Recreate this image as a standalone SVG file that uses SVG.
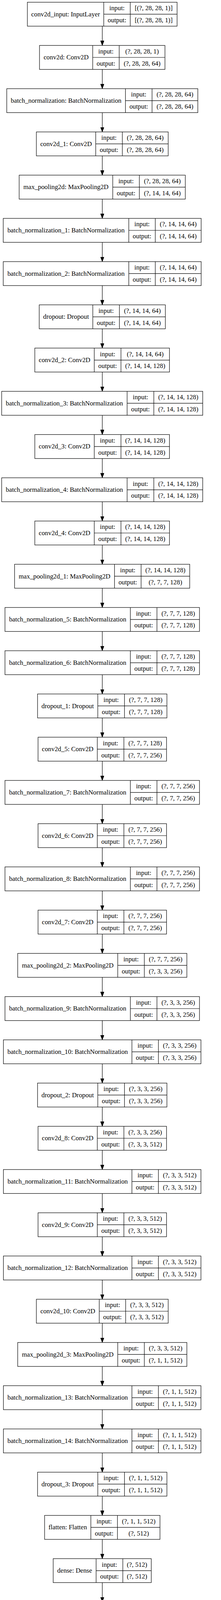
<svg xmlns="http://www.w3.org/2000/svg" width="565" height="4279" viewBox="0 0 565 4279">
<style>
.b{fill:#fff;stroke:#000;stroke-width:1.2}
.l{fill:none;stroke:#000;stroke-width:1.2}
text{font-family:"Liberation Serif","Times New Roman",serif;font-size:16.8px;text-anchor:middle;fill:#000}
</style>
<defs>
<marker id="ah" markerUnits="userSpaceOnUse" markerWidth="14" markerHeight="10" refX="12" refY="4.5" orient="auto">
<path d="M0,0L12,4.5L0,9Z" fill="#000" stroke="#000" stroke-width="1"/>
</marker>
</defs>
<rect x="0" y="0" width="565" height="4279" fill="#fff"/>
<g id="connectors" class="l" marker-end="url(#ah)">
<path d="M261.5,67V116.35"/>
<path d="M261.5,177.68V227.03"/>
<path d="M261.5,288.36V337.71"/>
<path d="M261.5,399.04V448.39"/>
<path d="M261.5,509.72V559.07"/>
<path d="M261.5,620.4V669.75"/>
<path d="M261.5,731.08V780.43"/>
<path d="M261.5,841.76V891.11"/>
<path d="M261.5,952.44V1001.79"/>
<path d="M261.5,1063.12V1112.47"/>
<path d="M261.5,1173.8V1223.15"/>
<path d="M261.5,1284.48V1333.83"/>
<path d="M261.5,1395.16V1444.51"/>
<path d="M261.5,1505.84V1555.19"/>
<path d="M261.5,1616.52V1665.87"/>
<path d="M261.5,1727.2V1776.55"/>
<path d="M261.5,1837.88V1887.23"/>
<path d="M261.5,1948.56V1997.91"/>
<path d="M261.5,2059.24V2108.59"/>
<path d="M261.5,2169.92V2219.27"/>
<path d="M261.5,2280.6V2329.95"/>
<path d="M261.5,2391.28V2440.63"/>
<path d="M261.5,2501.96V2551.31"/>
<path d="M261.5,2612.64V2661.99"/>
<path d="M261.5,2723.32V2772.67"/>
<path d="M261.5,2834V2883.35"/>
<path d="M261.5,2944.68V2994.03"/>
<path d="M261.5,3055.36V3104.71"/>
<path d="M261.5,3166.04V3215.39"/>
<path d="M261.5,3276.72V3326.07"/>
<path d="M261.5,3387.4V3436.75"/>
<path d="M261.5,3498.08V3547.43"/>
<path d="M261.5,3608.76V3658.11"/>
<path d="M261.5,3719.44V3768.79"/>
<path d="M261.5,3830.12V3879.47"/>
<path d="M261.5,3940.8V3990.15"/>
<path d="M261.5,4051.48V4100.83"/>
<path d="M261.5,4162.16V4211.51"/>
</g>

<g id="n0" transform="translate(0,5.67)">
<rect class="b" x="70" y="0" width="382.7" height="61.33"/>
<path class="l" d="M265.3,0V61.33M333,0V61.33M265.3,30.67H452.7"/>
<text x="167.65" y="36">conv2d_input: InputLayer</text>
<text x="299.15" y="20.4">input:</text><text x="392.85" y="20.4">[(?, 28, 28, 1)]</text>
<text x="299.15" y="51.3">output:</text><text x="392.85" y="51.3">[(?, 28, 28, 1)]</text>
</g>
<g id="n1" transform="translate(0,116.35)">
<rect class="b" x="101" y="0" width="320.7" height="61.33"/>
<path class="l" d="M237,0V61.33M304.7,0V61.33M237,30.67H421.7"/>
<text x="169" y="36">conv2d: Conv2D</text>
<text x="270.85" y="20.4">input:</text><text x="363.2" y="20.4">(?, 28, 28, 1)</text>
<text x="270.85" y="51.3">output:</text><text x="363.2" y="51.3">(?, 28, 28, 64)</text>
</g>
<g id="n2" transform="translate(0,227.03)">
<rect class="b" x="17.3" y="0" width="488.4" height="61.33"/>
<path class="l" d="M320.7,0V61.33M388.7,0V61.33M320.7,30.67H505.7"/>
<text x="169" y="36">batch_normalization: BatchNormalization</text>
<text x="354.7" y="20.4">input:</text><text x="447.2" y="20.4">(?, 28, 28, 64)</text>
<text x="354.7" y="51.3">output:</text><text x="447.2" y="51.3">(?, 28, 28, 64)</text>
</g>
<g id="n3" transform="translate(0,337.71)">
<rect class="b" x="93" y="0" width="337" height="61.33"/>
<path class="l" d="M244.7,0V61.33M312.7,0V61.33M244.7,30.67H430"/>
<text x="168.85" y="36">conv2d_1: Conv2D</text>
<text x="278.7" y="20.4">input:</text><text x="371.35" y="20.4">(?, 28, 28, 64)</text>
<text x="278.7" y="51.3">output:</text><text x="371.35" y="51.3">(?, 28, 28, 64)</text>
</g>
<g id="n4" transform="translate(0,448.39)">
<rect class="b" x="49" y="0" width="424.7" height="61.33"/>
<path class="l" d="M288.3,0V61.33M356.3,0V61.33M288.3,30.67H473.7"/>
<text x="168.65" y="36">max_pooling2d: MaxPooling2D</text>
<text x="322.3" y="20.4">input:</text><text x="415" y="20.4">(?, 28, 28, 64)</text>
<text x="322.3" y="51.3">output:</text><text x="415" y="51.3">(?, 14, 14, 64)</text>
</g>
<g id="n5" transform="translate(0,559.07)">
<rect class="b" x="8.3" y="0" width="506" height="61.33"/>
<path class="l" d="M329.3,0V61.33M397,0V61.33M329.3,30.67H514.3"/>
<text x="168.8" y="36">batch_normalization_1: BatchNormalization</text>
<text x="363.15" y="20.4">input:</text><text x="455.65" y="20.4">(?, 14, 14, 64)</text>
<text x="363.15" y="51.3">output:</text><text x="455.65" y="51.3">(?, 14, 14, 64)</text>
</g>
<g id="n6" transform="translate(0,669.75)">
<rect class="b" x="8.3" y="0" width="506" height="61.33"/>
<path class="l" d="M329.3,0V61.33M397,0V61.33M329.3,30.67H514.3"/>
<text x="168.8" y="36">batch_normalization_2: BatchNormalization</text>
<text x="363.15" y="20.4">input:</text><text x="455.65" y="20.4">(?, 14, 14, 64)</text>
<text x="363.15" y="51.3">output:</text><text x="455.65" y="51.3">(?, 14, 14, 64)</text>
</g>
<g id="n7" transform="translate(0,780.43)">
<rect class="b" x="100.3" y="0" width="322.4" height="61.33"/>
<path class="l" d="M237.3,0V61.33M305.3,0V61.33M237.3,30.67H422.7"/>
<text x="168.8" y="36">dropout: Dropout</text>
<text x="271.3" y="20.4">input:</text><text x="364" y="20.4">(?, 14, 14, 64)</text>
<text x="271.3" y="51.3">output:</text><text x="364" y="51.3">(?, 14, 14, 64)</text>
</g>
<g id="n8" transform="translate(0,891.11)">
<rect class="b" x="89" y="0" width="344.3" height="61.33"/>
<path class="l" d="M241,0V61.33M309.3,0V61.33M241,30.67H433.3"/>
<text x="165" y="36">conv2d_2: Conv2D</text>
<text x="275.15" y="20.4">input:</text><text x="371.3" y="20.4">(?, 14, 14, 64)</text>
<text x="275.15" y="51.3">output:</text><text x="371.3" y="51.3">(?, 14, 14, 128)</text>
</g>
<g id="n9" transform="translate(0,1001.79)">
<rect class="b" x="4.3" y="0" width="514" height="61.33"/>
<path class="l" d="M325,0V61.33M393.3,0V61.33M325,30.67H518.3"/>
<text x="164.65" y="36">batch_normalization_3: BatchNormalization</text>
<text x="359.15" y="20.4">input:</text><text x="455.8" y="20.4">(?, 14, 14, 128)</text>
<text x="359.15" y="51.3">output:</text><text x="455.8" y="51.3">(?, 14, 14, 128)</text>
</g>
<g id="n10" transform="translate(0,1112.47)">
<rect class="b" x="89" y="0" width="344.3" height="61.33"/>
<path class="l" d="M241,0V61.33M309.3,0V61.33M241,30.67H433.3"/>
<text x="165" y="36">conv2d_3: Conv2D</text>
<text x="275.15" y="20.4">input:</text><text x="371.3" y="20.4">(?, 14, 14, 128)</text>
<text x="275.15" y="51.3">output:</text><text x="371.3" y="51.3">(?, 14, 14, 128)</text>
</g>
<g id="n11" transform="translate(0,1223.15)">
<rect class="b" x="4.3" y="0" width="514" height="61.33"/>
<path class="l" d="M325,0V61.33M393.3,0V61.33M325,30.67H518.3"/>
<text x="164.65" y="36">batch_normalization_4: BatchNormalization</text>
<text x="359.15" y="20.4">input:</text><text x="455.8" y="20.4">(?, 14, 14, 128)</text>
<text x="359.15" y="51.3">output:</text><text x="455.8" y="51.3">(?, 14, 14, 128)</text>
</g>
<g id="n12" transform="translate(0,1333.83)">
<rect class="b" x="89" y="0" width="344.3" height="61.33"/>
<path class="l" d="M241,0V61.33M309.3,0V61.33M241,30.67H433.3"/>
<text x="165" y="36">conv2d_4: Conv2D</text>
<text x="275.15" y="20.4">input:</text><text x="371.3" y="20.4">(?, 14, 14, 128)</text>
<text x="275.15" y="51.3">output:</text><text x="371.3" y="51.3">(?, 14, 14, 128)</text>
</g>
<g id="n13" transform="translate(0,1444.51)">
<rect class="b" x="37.3" y="0" width="447.7" height="61.33"/>
<path class="l" d="M292.7,0V61.33M360.7,0V61.33M292.7,30.67H485"/>
<text x="165" y="36">max_pooling2d_1: MaxPooling2D</text>
<text x="326.7" y="20.4">input:</text><text x="422.85" y="20.4">(?, 14, 14, 128)</text>
<text x="326.7" y="51.3">output:</text><text x="422.85" y="51.3">(?, 7, 7, 128)</text>
</g>
<g id="n14" transform="translate(0,1555.19)">
<rect class="b" x="12.7" y="0" width="497.3" height="61.33"/>
<path class="l" d="M333.3,0V61.33M401.3,0V61.33M333.3,30.67H510"/>
<text x="173" y="36">batch_normalization_5: BatchNormalization</text>
<text x="367.3" y="20.4">input:</text><text x="455.65" y="20.4">(?, 7, 7, 128)</text>
<text x="367.3" y="51.3">output:</text><text x="455.65" y="51.3">(?, 7, 7, 128)</text>
</g>
<g id="n15" transform="translate(0,1665.87)">
<rect class="b" x="12.7" y="0" width="497.3" height="61.33"/>
<path class="l" d="M333.3,0V61.33M401.3,0V61.33M333.3,30.67H510"/>
<text x="173" y="36">batch_normalization_6: BatchNormalization</text>
<text x="367.3" y="20.4">input:</text><text x="455.65" y="20.4">(?, 7, 7, 128)</text>
<text x="367.3" y="51.3">output:</text><text x="455.65" y="51.3">(?, 7, 7, 128)</text>
</g>
<g id="n16" transform="translate(0,1776.55)">
<rect class="b" x="96" y="0" width="330.7" height="61.33"/>
<path class="l" d="M250,0V61.33M318.3,0V61.33M250,30.67H426.7"/>
<text x="173" y="36">dropout_1: Dropout</text>
<text x="284.15" y="20.4">input:</text><text x="372.5" y="20.4">(?, 7, 7, 128)</text>
<text x="284.15" y="51.3">output:</text><text x="372.5" y="51.3">(?, 7, 7, 128)</text>
</g>
<g id="n17" transform="translate(0,1887.23)">
<rect class="b" x="97.3" y="0" width="328.4" height="61.33"/>
<path class="l" d="M248.7,0V61.33M316.7,0V61.33M248.7,30.67H425.7"/>
<text x="173" y="36">conv2d_5: Conv2D</text>
<text x="282.7" y="20.4">input:</text><text x="371.2" y="20.4">(?, 7, 7, 128)</text>
<text x="282.7" y="51.3">output:</text><text x="371.2" y="51.3">(?, 7, 7, 256)</text>
</g>
<g id="n18" transform="translate(0,1997.91)">
<rect class="b" x="12.7" y="0" width="497.3" height="61.33"/>
<path class="l" d="M333.3,0V61.33M401.3,0V61.33M333.3,30.67H510"/>
<text x="173" y="36">batch_normalization_7: BatchNormalization</text>
<text x="367.3" y="20.4">input:</text><text x="455.65" y="20.4">(?, 7, 7, 256)</text>
<text x="367.3" y="51.3">output:</text><text x="455.65" y="51.3">(?, 7, 7, 256)</text>
</g>
<g id="n19" transform="translate(0,2108.59)">
<rect class="b" x="97.3" y="0" width="328.4" height="61.33"/>
<path class="l" d="M248.7,0V61.33M316.7,0V61.33M248.7,30.67H425.7"/>
<text x="173" y="36">conv2d_6: Conv2D</text>
<text x="282.7" y="20.4">input:</text><text x="371.2" y="20.4">(?, 7, 7, 256)</text>
<text x="282.7" y="51.3">output:</text><text x="371.2" y="51.3">(?, 7, 7, 256)</text>
</g>
<g id="n20" transform="translate(0,2219.27)">
<rect class="b" x="12.7" y="0" width="497.3" height="61.33"/>
<path class="l" d="M333.3,0V61.33M401.3,0V61.33M333.3,30.67H510"/>
<text x="173" y="36">batch_normalization_8: BatchNormalization</text>
<text x="367.3" y="20.4">input:</text><text x="455.65" y="20.4">(?, 7, 7, 256)</text>
<text x="367.3" y="51.3">output:</text><text x="455.65" y="51.3">(?, 7, 7, 256)</text>
</g>
<g id="n21" transform="translate(0,2329.95)">
<rect class="b" x="97.3" y="0" width="328.4" height="61.33"/>
<path class="l" d="M248.7,0V61.33M316.7,0V61.33M248.7,30.67H425.7"/>
<text x="173" y="36">conv2d_7: Conv2D</text>
<text x="282.7" y="20.4">input:</text><text x="371.2" y="20.4">(?, 7, 7, 256)</text>
<text x="282.7" y="51.3">output:</text><text x="371.2" y="51.3">(?, 7, 7, 256)</text>
</g>
<g id="n22" transform="translate(0,2440.63)">
<rect class="b" x="45.3" y="0" width="432.4" height="61.33"/>
<path class="l" d="M301,0V61.33M369,0V61.33M301,30.67H477.7"/>
<text x="173.15" y="36">max_pooling2d_2: MaxPooling2D</text>
<text x="335" y="20.4">input:</text><text x="423.35" y="20.4">(?, 7, 7, 256)</text>
<text x="335" y="51.3">output:</text><text x="423.35" y="51.3">(?, 3, 3, 256)</text>
</g>
<g id="n23" transform="translate(0,2551.31)">
<rect class="b" x="12.7" y="0" width="497.3" height="61.33"/>
<path class="l" d="M333.3,0V61.33M401.3,0V61.33M333.3,30.67H510"/>
<text x="173" y="36">batch_normalization_9: BatchNormalization</text>
<text x="367.3" y="20.4">input:</text><text x="455.65" y="20.4">(?, 3, 3, 256)</text>
<text x="367.3" y="51.3">output:</text><text x="455.65" y="51.3">(?, 3, 3, 256)</text>
</g>
<g id="n24" transform="translate(0,2661.99)">
<rect class="b" x="8.7" y="0" width="505" height="61.33"/>
<path class="l" d="M337.3,0V61.33M405,0V61.33M337.3,30.67H513.7"/>
<text x="173" y="36">batch_normalization_10: BatchNormalization</text>
<text x="371.15" y="20.4">input:</text><text x="459.35" y="20.4">(?, 3, 3, 256)</text>
<text x="371.15" y="51.3">output:</text><text x="459.35" y="51.3">(?, 3, 3, 256)</text>
</g>
<g id="n25" transform="translate(0,2772.67)">
<rect class="b" x="96" y="0" width="330.7" height="61.33"/>
<path class="l" d="M250,0V61.33M318.3,0V61.33M250,30.67H426.7"/>
<text x="173" y="36">dropout_2: Dropout</text>
<text x="284.15" y="20.4">input:</text><text x="372.5" y="20.4">(?, 3, 3, 256)</text>
<text x="284.15" y="51.3">output:</text><text x="372.5" y="51.3">(?, 3, 3, 256)</text>
</g>
<g id="n26" transform="translate(0,2883.35)">
<rect class="b" x="97.3" y="0" width="328.4" height="61.33"/>
<path class="l" d="M248.7,0V61.33M316.7,0V61.33M248.7,30.67H425.7"/>
<text x="173" y="36">conv2d_8: Conv2D</text>
<text x="282.7" y="20.4">input:</text><text x="371.2" y="20.4">(?, 3, 3, 256)</text>
<text x="282.7" y="51.3">output:</text><text x="371.2" y="51.3">(?, 3, 3, 512)</text>
</g>
<g id="n27" transform="translate(0,2994.03)">
<rect class="b" x="8.7" y="0" width="505" height="61.33"/>
<path class="l" d="M337.3,0V61.33M405,0V61.33M337.3,30.67H513.7"/>
<text x="173" y="36">batch_normalization_11: BatchNormalization</text>
<text x="371.15" y="20.4">input:</text><text x="459.35" y="20.4">(?, 3, 3, 512)</text>
<text x="371.15" y="51.3">output:</text><text x="459.35" y="51.3">(?, 3, 3, 512)</text>
</g>
<g id="n28" transform="translate(0,3104.71)">
<rect class="b" x="97.3" y="0" width="328.4" height="61.33"/>
<path class="l" d="M248.7,0V61.33M316.7,0V61.33M248.7,30.67H425.7"/>
<text x="173" y="36">conv2d_9: Conv2D</text>
<text x="282.7" y="20.4">input:</text><text x="371.2" y="20.4">(?, 3, 3, 512)</text>
<text x="282.7" y="51.3">output:</text><text x="371.2" y="51.3">(?, 3, 3, 512)</text>
</g>
<g id="n29" transform="translate(0,3215.39)">
<rect class="b" x="8.7" y="0" width="505" height="61.33"/>
<path class="l" d="M337.3,0V61.33M405,0V61.33M337.3,30.67H513.7"/>
<text x="173" y="36">batch_normalization_12: BatchNormalization</text>
<text x="371.15" y="20.4">input:</text><text x="459.35" y="20.4">(?, 3, 3, 512)</text>
<text x="371.15" y="51.3">output:</text><text x="459.35" y="51.3">(?, 3, 3, 512)</text>
</g>
<g id="n30" transform="translate(0,3326.07)">
<rect class="b" x="93" y="0" width="337" height="61.33"/>
<path class="l" d="M253.7,0V61.33M321.3,0V61.33M253.7,30.67H430"/>
<text x="173.35" y="36">conv2d_10: Conv2D</text>
<text x="287.5" y="20.4">input:</text><text x="375.65" y="20.4">(?, 3, 3, 512)</text>
<text x="287.5" y="51.3">output:</text><text x="375.65" y="51.3">(?, 3, 3, 512)</text>
</g>
<g id="n31" transform="translate(0,3436.75)">
<rect class="b" x="45.3" y="0" width="432.4" height="61.33"/>
<path class="l" d="M301,0V61.33M369,0V61.33M301,30.67H477.7"/>
<text x="173.15" y="36">max_pooling2d_3: MaxPooling2D</text>
<text x="335" y="20.4">input:</text><text x="423.35" y="20.4">(?, 3, 3, 512)</text>
<text x="335" y="51.3">output:</text><text x="423.35" y="51.3">(?, 1, 1, 512)</text>
</g>
<g id="n32" transform="translate(0,3547.43)">
<rect class="b" x="8.7" y="0" width="505" height="61.33"/>
<path class="l" d="M337.3,0V61.33M405,0V61.33M337.3,30.67H513.7"/>
<text x="173" y="36">batch_normalization_13: BatchNormalization</text>
<text x="371.15" y="20.4">input:</text><text x="459.35" y="20.4">(?, 1, 1, 512)</text>
<text x="371.15" y="51.3">output:</text><text x="459.35" y="51.3">(?, 1, 1, 512)</text>
</g>
<g id="n33" transform="translate(0,3658.11)">
<rect class="b" x="8.7" y="0" width="505" height="61.33"/>
<path class="l" d="M337.3,0V61.33M405,0V61.33M337.3,30.67H513.7"/>
<text x="173" y="36">batch_normalization_14: BatchNormalization</text>
<text x="371.15" y="20.4">input:</text><text x="459.35" y="20.4">(?, 1, 1, 512)</text>
<text x="371.15" y="51.3">output:</text><text x="459.35" y="51.3">(?, 1, 1, 512)</text>
</g>
<g id="n34" transform="translate(0,3768.79)">
<rect class="b" x="96" y="0" width="330.7" height="61.33"/>
<path class="l" d="M250,0V61.33M318.3,0V61.33M250,30.67H426.7"/>
<text x="173" y="36">dropout_3: Dropout</text>
<text x="284.15" y="20.4">input:</text><text x="372.5" y="20.4">(?, 1, 1, 512)</text>
<text x="284.15" y="51.3">output:</text><text x="372.5" y="51.3">(?, 1, 1, 512)</text>
</g>
<g id="n35" transform="translate(0,3879.47)">
<rect class="b" x="114" y="0" width="295" height="61.33"/>
<path class="l" d="M232.3,0V61.33M300.3,0V61.33M232.3,30.67H409"/>
<text x="173.15" y="36">flatten: Flatten</text>
<text x="266.3" y="20.4">input:</text><text x="354.65" y="20.4">(?, 1, 1, 512)</text>
<text x="266.3" y="51.3">output:</text><text x="354.65" y="51.3">(?, 512)</text>
</g>
<g id="n36" transform="translate(0,3990.15)">
<rect class="b" x="136" y="0" width="250.7" height="61.33"/>
<path class="l" d="M245.7,0V61.33M314,0V61.33M245.7,30.67H386.7"/>
<text x="190.85" y="36">dense: Dense</text>
<text x="279.85" y="20.4">input:</text><text x="350.35" y="20.4">(?, 512)</text>
<text x="279.85" y="51.3">output:</text><text x="350.35" y="51.3">(?, 512)</text>
</g>
<g id="n37" transform="translate(0,4100.83)">
<rect class="b" x="27" y="0" width="469" height="61.33"/>
<path class="l" d="M355,0V61.33M423,0V61.33M355,30.67H496"/>
<text x="191" y="36">batch_normalization_15: BatchNormalization</text>
<text x="389" y="20.4">input:</text><text x="459.5" y="20.4">(?, 512)</text>
<text x="389" y="51.3">output:</text><text x="459.5" y="51.3">(?, 512)</text>
</g>
<g id="n38" transform="translate(0,4211.51)">
<rect class="b" x="128.3" y="0" width="266.4" height="61.33"/>
<path class="l" d="M254,0V61.33M322,0V61.33M254,30.67H394.7"/>
<text x="191.15" y="36">dense_1: Dense</text>
<text x="288" y="20.4">input:</text><text x="358.35" y="20.4">(?, 512)</text>
<text x="288" y="51.3">output:</text><text x="358.35" y="51.3">(?, 10)</text>
</g>
</svg>
